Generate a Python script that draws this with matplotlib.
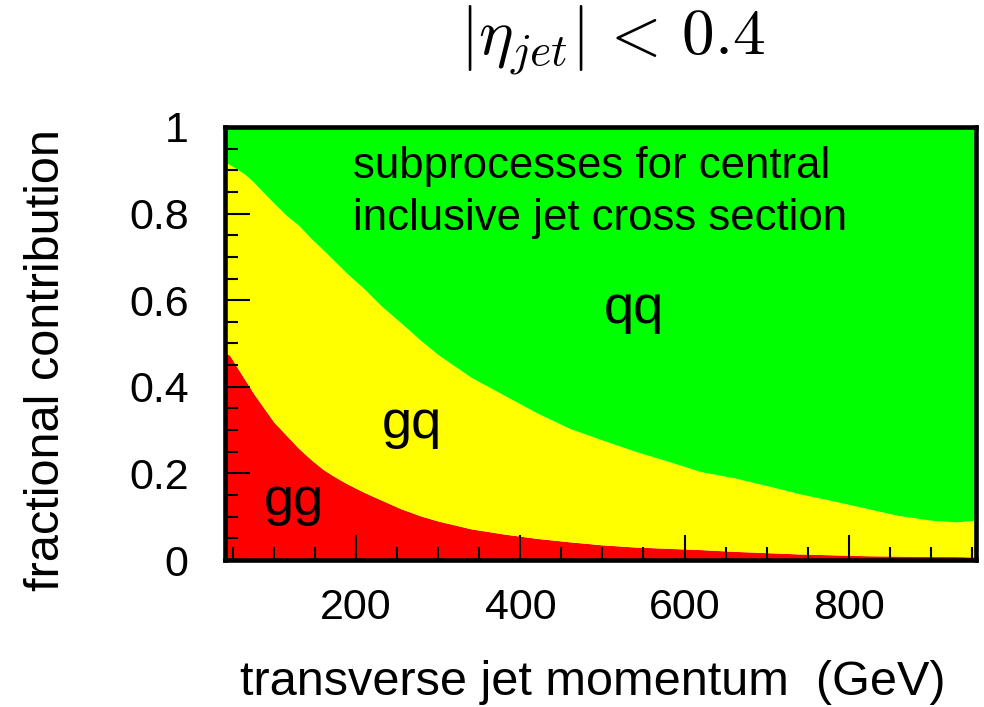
"""Subprocess fractions of the central inclusive jet cross section vs jet pT."""

import matplotlib
matplotlib.use("Agg")
import matplotlib.pyplot as plt
import numpy as np
from matplotlib.ticker import MultipleLocator

plt.rcParams["font.family"] = ["Liberation Sans", "DejaVu Sans"]

# ---------------------------------------------------------- data

pt_gev = [40, 46, 55, 65, 75, 85, 100, 115, 130, 145, 160, 175, 190, 210,
          230, 255, 280, 300, 340, 380, 420, 460, 500, 540, 580, 620, 660,
          700, 740, 780, 820, 860, 900, 930, 955]

# cumulative fraction: gg, gg+gq (the rest up to 1 is qq)
frac_gg = [0.478, 0.473, 0.445, 0.415, 0.385, 0.358, 0.318, 0.288, 0.258,
           0.232, 0.209, 0.191, 0.175, 0.156, 0.139, 0.118, 0.101, 0.090,
           0.072, 0.060, 0.050, 0.042, 0.035, 0.030, 0.027, 0.024, 0.020,
           0.017, 0.014, 0.012, 0.010, 0.009, 0.008, 0.008, 0.007]
frac_gg_gq = [0.920, 0.913, 0.903, 0.890, 0.873, 0.853, 0.824, 0.796, 0.773,
              0.743, 0.716, 0.688, 0.660, 0.626, 0.588, 0.547, 0.505, 0.474,
              0.422, 0.381, 0.340, 0.304, 0.277, 0.251, 0.228, 0.204, 0.190,
              0.172, 0.153, 0.137, 0.120, 0.103, 0.092, 0.088, 0.092]

labels = ["gg", "gq", "qq"]
colours = ["#ff0000", "#ffff00", "#00ff00"]

# ---------------------------------------------------------- plot

x = np.asarray(pt_gev, dtype=float)
lo = np.zeros_like(x)
mid = np.asarray(frac_gg)
hi = np.asarray(frac_gg_gq)
top = np.ones_like(x)

fig = plt.figure(figsize=(9.84, 7.07), dpi=100)
ax = fig.add_axes([0.2284, 0.2079, 0.7635, 0.6125])

ax.fill_between(x, lo, mid, color=colours[0], lw=0)
ax.fill_between(x, mid, hi, color=colours[1], lw=0)
ax.fill_between(x, hi, top, color=colours[2], lw=0)

ax.set_xlim(40, 955)
ax.set_ylim(0, 1)

for s in ax.spines.values():
    s.set_linewidth(3.3)
    s.set_zorder(5)

ax.xaxis.set_major_locator(MultipleLocator(200))
ax.xaxis.set_minor_locator(MultipleLocator(50))
ax.yaxis.set_major_locator(MultipleLocator(0.2))
ax.yaxis.set_minor_locator(MultipleLocator(0.05))
ax.set_yticks([0, 0.2, 0.4, 0.6, 0.8, 1.0])
ax.set_yticklabels(["0", "0.2", "0.4", "0.6", "0.8", "1"])

ax.tick_params(which="both", direction="in", top=False, right=False,
               width=1.5, labelsize=31, zorder=6)
ax.tick_params(which="major", length=18)
ax.tick_params(which="minor", length=9.5)
ax.tick_params(axis="y", pad=26)
ax.tick_params(axis="x", pad=20)

ax.set_xlabel("transverse jet momentum  (GeV)", fontsize=35, va="center")
ax.xaxis.set_label_coords(0.490, -0.284)
ax.set_ylabel("fractional contribution", fontsize=35, va="center")
ax.yaxis.set_label_coords(-0.237, 0.462)

# region labels
ax.text(87, 0.104, labels[0], fontsize=39, va="baseline")
ax.text(231, 0.282, labels[1], fontsize=39, va="baseline")
ax.text(501, 0.547, labels[2], fontsize=39, va="baseline")

ax.text(196, 0.882, "subprocesses for central", fontsize=31.5, va="baseline")
ax.text(196, 0.762, "inclusive jet cross section", fontsize=31.5, va="baseline")

fig.text(613 / 984, 1 - 40 / 707, r"$|\eta_{jet}|\,<\,0.4$", fontsize=47,
         math_fontfamily="cm", ha="center", va="center")

fig.savefig("out.png", dpi=100)
